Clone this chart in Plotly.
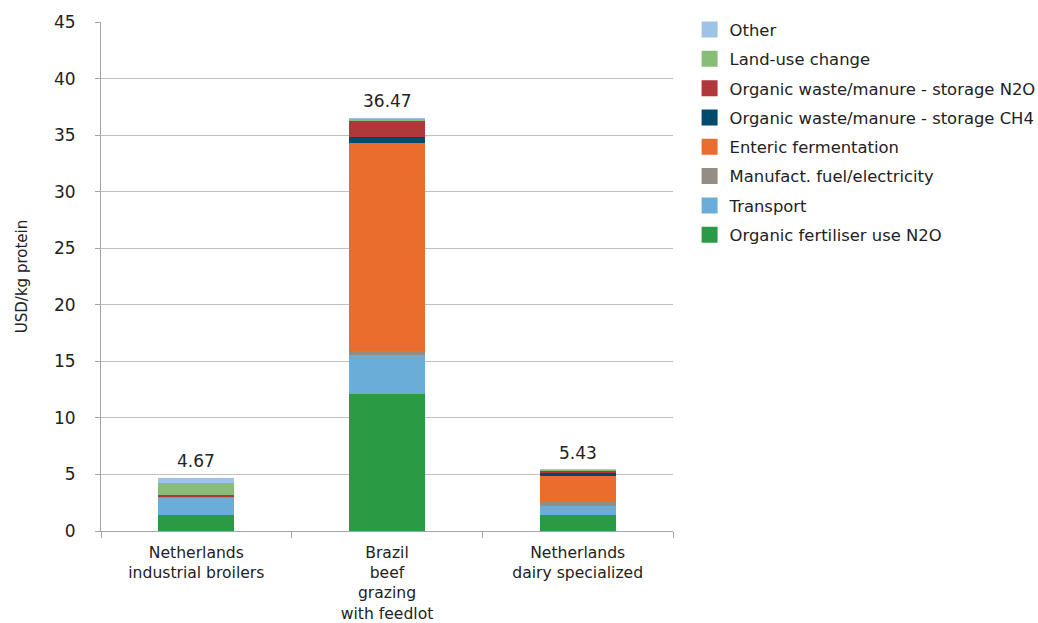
import plotly.graph_objects as go

categories = ["Netherlands<br>industrial broilers", "Brazil<br>beef<br>grazing<br>with feedlot", "Netherlands<br>dairy specialized"]

fertiliser_n2o = [1.43, 12.11, 1.38]
transport = [1.57, 3.45, 0.82]
manufact_fuel = [0.03, 0.33, 0.33]
enteric = [0.00, 18.44, 2.35]
storage_ch4 = [0.03, 0.53, 0.30]
storage_n2o = [0.12, 1.39, 0.15]
land_use = [1.03, 0.18, 0.07]
other = [0.46, 0.04, 0.03]

series = [
    ("Organic fertiliser use N2O", fertiliser_n2o, "#2A9B44"),
    ("Transport", transport, "#6AADD9"),
    ("Manufact. fuel/electricity", manufact_fuel, "#968C83"),
    ("Enteric fermentation", enteric, "#EB6D2D"),
    ("Organic waste/manure - storage CH4", storage_ch4, "#004B6B"),
    ("Organic waste/manure - storage N2O", storage_n2o, "#B0373A"),
    ("Land-use change", land_use, "#86BE78"),
    ("Other", other, "#9DC3E6"),
]

totals = [round(sum(v[i] for _, v, _ in series), 2) for i in range(len(categories))]

FONT = "Verdana, DejaVu Sans, sans-serif"

fig = go.Figure()
for name, vals, col in series:
    fig.add_trace(go.Bar(
        x=categories, y=vals, name=name, marker_color=col,
        marker_line_width=0, width=0.4, showlegend=False,
    ))
# legend entries with larger square swatches (top of stack listed first)
for i, (name, vals, col) in enumerate(reversed(series)):
    fig.add_trace(go.Scatter(
        x=[None], y=[None], mode="markers", name=name,
        marker=dict(symbol="square", size=18, color=col),
        legendgroup=f"g{i}", showlegend=True,
    ))

for c, t in zip(categories, totals):
    fig.add_annotation(x=c, y=t, text=f"{t:.2f}", showarrow=False,
                       yshift=17, font=dict(size=17, color="#222", family=FONT))

fig.update_layout(
    barmode="stack",
    width=1038, height=623,
    margin=dict(l=101, r=365, t=22, b=92, autoexpand=False),
    plot_bgcolor="white", paper_bgcolor="white",
    font=dict(family=FONT, size=16, color="#222"),
    legend=dict(x=1.029, y=1.019, xanchor="left", yanchor="top",
                traceorder="grouped", tracegroupgap=5, itemsizing="trace",
                font=dict(size=16.4, color="#222"), itemwidth=30),
    showlegend=True,
)
fig.update_yaxes(range=[0, 45], dtick=5, showgrid=True, gridcolor="#BFBFBF",
                 showline=True, linecolor="#A6A6A6", ticks="outside", ticklen=5,
                 tickcolor="#A6A6A6", zeroline=False, ticklabelstandoff=16,
                 automargin=False,
                 title=dict(text="USD/kg protein", font=dict(size=15), standoff=22),
                 tickfont=dict(size=17))
fig.update_xaxes(showline=True, linecolor="#A6A6A6", ticks="outside", ticklen=6,
                 tickcolor="#A6A6A6", tickson="boundaries", ticklabelstandoff=7,
                 automargin=False, tickfont=dict(size=15.6))

fig.write_html("out.html", config={"displayModeBar": False},
               post_script="document.body.style.margin='0';")
